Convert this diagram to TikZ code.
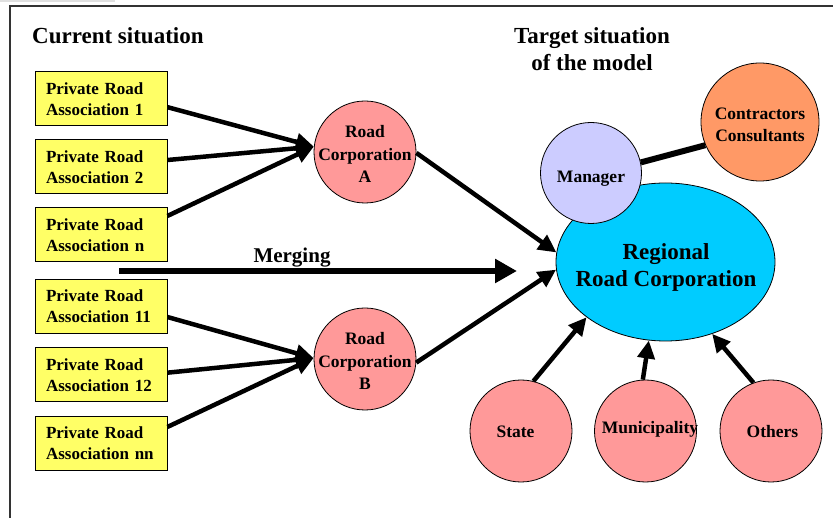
\documentclass[tikz,border=0pt]{standalone}
\usepackage{fontspec}
\setmainfont{Liberation Serif}
\usetikzlibrary{shapes.geometric,arrows.meta}

\definecolor{boxyellow}{HTML}{FFFF66}
\definecolor{corppink}{HTML}{FF9999}
\definecolor{regcyan}{HTML}{00CCFF}
\definecolor{mgrlilac}{HTML}{CCCCFF}
\definecolor{conorange}{HTML}{FF9966}

\begin{document}
\begin{tikzpicture}[x=1pt,y=-1pt,
  assoc/.style={draw, line width=1pt, fill=boxyellow, minimum height=54pt,
    text width=110pt, inner xsep=11pt, inner ysep=0pt, align=left,
    font=\bfseries\fontsize{17}{21}\selectfont},
  disc/.style={circle, draw, line width=0.8pt, inner sep=0pt, minimum size=#1},
  lbl/.style={inner sep=0pt, align=center, font=\bfseries\fontsize{17.5}{22.5}\selectfont},
  title/.style={inner sep=0pt, align=center, font=\bfseries\fontsize{23}{27}\selectfont},
  arr/.style={line width=4.5pt, -{Triangle[length=18pt,width=17pt]}},
  bigarr/.style={line width=6pt, -{Triangle[length=22pt,width=23pt]}},
  link/.style={line width=6pt}
]
\useasboundingbox (0,0) rectangle (833,518);
\fill[white] (0,0) rectangle (833,518);

% page frame
\fill[black!12] (0,0) rectangle (115,2.5);
\draw[line width=1.3pt, black!80] (10,518) -- (10,6) -- (833,6);

% headings
\node[title, anchor=base west] (hcur) at (32,44) {Current situation};
\node[title, anchor=base] (htgt) at (592,44) {Target situation};
\node[title, anchor=base] (htgt2) at (592,71) {of the model};

% private road associations
\node[assoc] (b1)  at (101,99)    {Private Road\\Association 1};
\node[assoc] (b2)  at (101,167)   {Private Road\\Association 2};
\node[assoc] (bn)  at (101,235)   {Private Road\\Association n};
\node[assoc] (b11) at (101,306.5) {Private Road\\Association 11};
\node[assoc] (b12) at (101,375)   {Private Road\\Association 12};
\node[assoc] (bnn) at (101,443.5) {Private Road\\Association nn};

% road corporations
\node[disc=102pt, fill=corppink] (A) at (365,152) {};
\node[lbl] (Atxt) at (365,154) {Road\\Corporation\\A};
\node[disc=102pt, fill=corppink] (B) at (365,359) {};
\node[lbl] (Btxt) at (365,361) {Road\\Corporation\\B};

% regional corporation and its partners
\node[ellipse, draw, line width=0.8pt, fill=regcyan, inner sep=0pt,
      minimum width=219pt, minimum height=158pt] (R) at (665.5,262) {};
\node[inner sep=0pt, align=center, font=\bfseries\fontsize{23}{27}\selectfont]
      (Rtxt) at (666,267) {Regional\\Road Corporation};

\node[disc=118pt, fill=conorange] (C) at (760,122) {};
\node[lbl] (Ctxt) at (760,125) {Contractors\\Consultants};

\node[disc=101pt, fill=mgrlilac] (M) at (591,173) {};
\node[lbl] (Mtxt) at (591,179) {Manager};

% manager works with contractors
\draw[link] (M.12) -- (C.203.7);

\node[disc=102pt, fill=corppink] (S)  at (521,431)   {};
\node[lbl] (Stxt) at (515.5,432) {State};
\node[disc=102pt, fill=corppink] (Mu) at (645.5,431) {};
\node[lbl] (Mutxt) at (650,429) {Municipality};
\node[disc=102pt, fill=corppink] (O)  at (771,431)   {};
\node[lbl] (Otxt) at (772.5,432) {Others};

% associations merge into corporations
\draw[arr] (b1.-7.8)  -- (A.174.5);
\draw[arr] (b2.6)     -- (A.174.5);
\draw[arr] (bn.16.9)  -- (A.174.5);
\draw[arr] (b11.-9.9) -- (B.179);
\draw[arr] (b12.2.6)  -- (B.179);
\draw[arr] (bnn.14.9) -- (B.179);

% corporations into the regional corporation
\draw[arr] (A.-1)   -- (R.175.3);
\draw[arr] (B.-4.6) -- (R.184.8);

% owners into the regional corporation
\draw[arr] (S.76.8)  -- (R.215.5);
\draw[arr] (Mu.93.9) -- (R.258.9);
\draw[arr] (O.110.4) -- (R.303.4);

% merging
\coordinate (mstart) at (119,271);
\coordinate (mend) at (517,271);
\draw[bigarr] (mstart) -- (mend);
\node[inner sep=0pt, anchor=base, font=\bfseries\fontsize{21}{24}\selectfont]
      (mlbl) at (292,263) {Merging};
\end{tikzpicture}
\end{document}
